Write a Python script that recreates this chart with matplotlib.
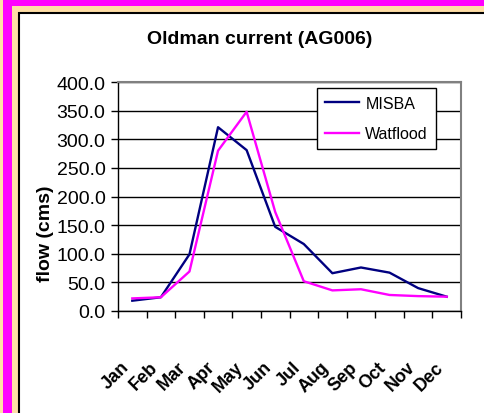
import numpy as np
import matplotlib.pyplot as plt
from matplotlib.patches import Rectangle

plt.rcParams['font.family'] = ['Liberation Sans', 'DejaVu Sans']

months = ['Jan', 'Feb', 'Mar', 'Apr', 'May', 'Jun', 'Jul', 'Aug', 'Sep', 'Oct', 'Nov', 'Dec']
misba = [18, 24, 99, 321, 281, 147, 117, 66, 76, 67, 40, 25]
watflood = [22, 24, 69, 280, 348, 173, 52, 36, 38, 28, 26, 25]
yticks = [0, 50, 100, 150, 200, 250, 300, 350, 400]

W, H = 485, 414
fig = plt.figure(figsize=(W / 100, H / 100), dpi=100, facecolor='#FF00FF')

# frame: tan band, then white panel with black edge
fig.patches.append(Rectangle((0, 0), 3 / W, 1, transform=fig.transFigure,
                             facecolor='#FFDEA6', edgecolor='none', zorder=-3))
fig.patches.append(Rectangle((12 / W, 0), 1, 1 - 7 / H, transform=fig.transFigure,
                             facecolor='#FFDEA6', edgecolor='none', zorder=-3))
fig.patches.append(Rectangle((19 / W, -0.1), 1, 1 - 14 / H + 0.1, transform=fig.transFigure,
                             facecolor='white', edgecolor='black', linewidth=1.5, zorder=-2))

ax = fig.add_axes([118 / W, 1 - 312 / H, 343 / W, 229 / H])
x = np.arange(len(months))
ax.plot(x, misba, color='#000080', lw=1.7, label='MISBA', zorder=3)
ax.plot(x, watflood, color='#FF00FF', lw=1.7, label='Watflood', zorder=3)

ax.set_xlim(-0.5, 11.5)
ax.set_ylim(0, 400)
ax.set_yticks(yticks)
ax.set_yticklabels(['%.1f' % v for v in yticks], fontsize=14)
ax.yaxis.grid(True, color='black', lw=1)
ax.set_axisbelow(True)

ax.set_xticks(np.arange(-0.5, 12, 1))
ax.set_xticklabels([])
ax.set_xticks(x, minor=True)
ax.set_xticklabels(months, minor=True, rotation=45, ha='right', va='top',
                   fontsize=13, fontweight='bold')
ax.tick_params(axis='x', which='major', length=5, width=1, direction='out')
ax.tick_params(axis='x', which='minor', length=0, pad=34)
ax.tick_params(axis='y', length=5, width=1, pad=4, direction='out')

for s in ['left', 'bottom']:
    ax.spines[s].set_color('black')
    ax.spines[s].set_linewidth(1)
for s in ['top', 'right']:
    ax.spines[s].set_color('#808080')
    ax.spines[s].set_linewidth(1.5)

leg = ax.legend(loc='upper right', bbox_to_anchor=(0.927, 0.974), borderaxespad=0,
                fancybox=False, edgecolor='black', fontsize=11.5, handlelength=2.1,
                handletextpad=0.4, borderpad=0.5, labelspacing=0.95, framealpha=1)
leg.get_frame().set_linewidth(1)

fig.text(260 / W, 1 - 39 / H, 'Oldman current (AG006)', ha='center', va='center',
         fontsize=14, fontweight='bold')
fig.text(46 / W, 1 - 234 / H, 'flow (cms)', ha='center', va='center', rotation=90,
         fontsize=14, fontweight='bold')

fig.savefig('out.png', dpi=100, facecolor=fig.get_facecolor())
